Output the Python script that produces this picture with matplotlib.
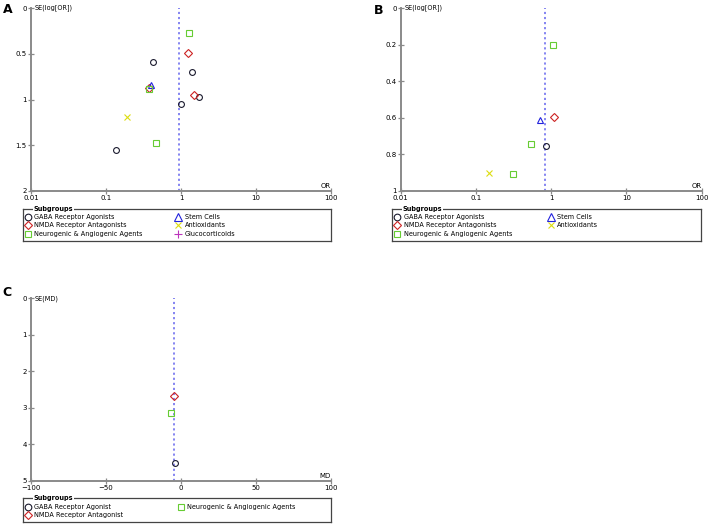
import matplotlib
matplotlib.use("Agg")
import matplotlib.pyplot as plt

# ---------------- data ----------------
# Panel A : OR vs SE(log[OR])
a_gaba_or = [0.42, 1.39, 1.75, 1.0, 0.135]
a_gaba_se = [0.587, 0.70, 0.973, 1.045, 1.552]
a_nmda_or = [1.25, 1.48, 0.38]
a_nmda_se = [0.49, 0.95, 0.87]
a_neuro_or = [1.29, 0.38, 0.46]
a_neuro_se = [0.27, 0.89, 1.47]
a_stem_or = [0.40]
a_stem_se = [0.84]
a_anti_or = [0.19]
a_anti_se = [1.19]
a_summary = 0.94

# Panel B
b_gaba_or = [0.845]
b_gaba_se = [0.752]
b_nmda_or = [1.08]
b_nmda_se = [0.597]
b_neuro_or = [1.07, 0.54, 0.314]
b_neuro_se = [0.204, 0.743, 0.907]
b_stem_or = [0.71]
b_stem_se = [0.614]
b_anti_or = [0.148]
b_anti_se = [0.90]
b_summary = 0.82

# Panel C : MD vs SE(MD)
c_gaba_md = [-4.2]
c_gaba_se = [4.52]
c_nmda_md = [-4.4]
c_nmda_se = [2.67]
c_neuro_md = [-6.4]
c_neuro_se = [3.13]
c_summary = -4.9

or_ticks = [0.01, 0.1, 1, 10, 100]
or_labels = ["0.01", "0.1", "1", "10", "100"]

# ---------------- styles ----------------
styles = {
    "gaba": dict(marker="o", color="#1a1a2e"),
    "nmda": dict(marker="D", color="#cc2222"),
    "neuro": dict(marker="s", color="#66cc33"),
    "stem": dict(marker="^", color="#2222dd"),
    "anti": dict(marker="x", color="#dddd11"),
    "gluco": dict(marker="+", color="#bb33bb"),
}
sizes = {"o": 4.2, "D": 3.6, "s": 3.8, "^": 4.8, "x": 4.0, "+": 4.5}
SPINE = "#8a8a8a"
FS = 5.0
LFS = 4.7
LINE = "#7b7bf0"


def pts(ax, x, y, key, extra=0.0):
    st = styles[key]
    m = st["marker"]
    ax.plot(x, y, linestyle="none", marker=m, markersize=sizes[m] + extra,
            markerfacecolor="none", markeredgecolor=st["color"],
            markeredgewidth=0.8, clip_on=False, zorder=3)


def style_axes(ax, ylabel, xlabel):
    for s in ["top", "right"]:
        ax.spines[s].set_visible(False)
    for s in ["left", "bottom"]:
        ax.spines[s].set_color(SPINE)
        ax.spines[s].set_linewidth(1.4)
    ax.tick_params(direction="inout", length=4, width=0.9, color=SPINE,
                   labelsize=FS, pad=1)
    ax.minorticks_off()
    ax.text(0.012, 1.0, ylabel, transform=ax.transAxes, fontsize=LFS,
            ha="left", va="center")
    ax.text(1.0, 0.01, xlabel, transform=ax.transAxes, fontsize=LFS + 0.3,
            ha="right", va="bottom")


def legend_box(fig, rect, entries, rows_y, col_x):
    lax = fig.add_axes(rect)
    lax.set_xlim(0, 1)
    lax.set_ylim(0, 1)
    lax.set_xticks([])
    lax.set_yticks([])
    for s in lax.spines.values():
        s.set_color("#444444")
        s.set_linewidth(0.9)
    nrows = len(rows_y)
    for i, (key, label) in enumerate(entries):
        col, row = divmod(i, nrows)
        mx, tx = col_x[col]
        pts(lax, [mx], [rows_y[row]], key, extra=0.6)
        lax.text(tx, rows_y[row], label, fontsize=LFS, ha="left",
                 va="center")
    lax.text(0.035, 1.0, "Subgroups", transform=lax.transAxes, fontsize=LFS,
             fontweight="bold", ha="left", va="center",
             bbox=dict(facecolor="white", edgecolor="none", pad=0.5))
    return lax


def summary_line(ax, x):
    ax.axvline(x, color=LINE, linestyle=(0, (1.2, 1.6)), lw=1.3, zorder=1)


fig = plt.figure(figsize=(7.08, 5.24), dpi=100)

# ---------------- panel A ----------------
axA = fig.add_axes([0.0438, 0.6355, 0.4237, 0.3492])
axA.set_xscale("log")
summary_line(axA, a_summary)
pts(axA, a_gaba_or, a_gaba_se, "gaba")
pts(axA, a_nmda_or, a_nmda_se, "nmda")
pts(axA, a_stem_or, a_stem_se, "stem")
pts(axA, a_neuro_or, a_neuro_se, "neuro")
pts(axA, a_anti_or, a_anti_se, "anti")
axA.set_xlim(0.01, 100)
axA.set_ylim(2, 0)
axA.set_xticks(or_ticks)
axA.set_xticklabels(or_labels)
axA.set_yticks([0, 0.5, 1, 1.5, 2])
axA.set_yticklabels(["0", "0.5", "1", "1.5", "2"])
style_axes(axA, "SE(log[OR])", "OR")

legend_box(fig, [0.0325, 0.540, 0.435, 0.061],
           [("gaba", "GABA Receptor Agonists"),
            ("nmda", "NMDA Receptor Antagonists"),
            ("neuro", "Neurogenic & Angiogenic Agents"),
            ("stem", "Stem Cells"),
            ("anti", "Antioxidants"),
            ("gluco", "Glucocorticoids")],
           [0.76, 0.49, 0.21], [(0.017, 0.036), (0.503, 0.526)])

# ---------------- panel B ----------------
axB = fig.add_axes([0.566, 0.6355, 0.425, 0.3492])
axB.set_xscale("log")
summary_line(axB, b_summary)
pts(axB, b_gaba_or, b_gaba_se, "gaba")
pts(axB, b_nmda_or, b_nmda_se, "nmda")
pts(axB, b_neuro_or, b_neuro_se, "neuro")
pts(axB, b_stem_or, b_stem_se, "stem")
pts(axB, b_anti_or, b_anti_se, "anti")
axB.set_xlim(0.01, 100)
axB.set_ylim(1, 0)
axB.set_xticks(or_ticks)
axB.set_xticklabels(or_labels)
axB.set_yticks([0, 0.2, 0.4, 0.6, 0.8, 1])
axB.set_yticklabels(["0", "0.2", "0.4", "0.6", "0.8", "1"])
style_axes(axB, "SE(log[OR])", "OR")

legend_box(fig, [0.5537, 0.540, 0.4364, 0.061],
           [("gaba", "GABA Receptor Agonists"),
            ("nmda", "NMDA Receptor Antagonists"),
            ("neuro", "Neurogenic & Angiogenic Agents"),
            ("stem", "Stem Cells"),
            ("anti", "Antioxidants")],
           [0.76, 0.49, 0.21], [(0.017, 0.039), (0.513, 0.534)])

# ---------------- panel C ----------------
axC = fig.add_axes([0.0438, 0.0821, 0.4237, 0.3487])
summary_line(axC, c_summary)
pts(axC, c_gaba_md, c_gaba_se, "gaba")
pts(axC, c_nmda_md, c_nmda_se, "nmda")
pts(axC, c_neuro_md, c_neuro_se, "neuro")
axC.set_xlim(-100, 100)
axC.set_ylim(5, 0)
axC.set_xticks([-100, -50, 0, 50, 100])
axC.set_xticklabels(["\u2212100", "\u221250", "0", "50", "100"])
axC.set_yticks([0, 1, 2, 3, 4, 5])
style_axes(axC, "SE(MD)", "MD")

legend_box(fig, [0.0325, 0.003, 0.435, 0.046],
           [("gaba", "GABA Receptor Agonist"),
            ("nmda", "NMDA Receptor Antagonist"),
            ("neuro", "Neurogenic & Angiogenic Agents")],
           [0.66, 0.30], [(0.017, 0.036), (0.513, 0.533)])

# panel letters
fig.text(0.004, 0.995, "A", fontsize=9, fontweight="bold", ha="left", va="top")
fig.text(0.528, 0.993, "B", fontsize=9, fontweight="bold", ha="left", va="top")
fig.text(0.004, 0.455, "C", fontsize=9, fontweight="bold", ha="left", va="top")

fig.savefig("out.png", dpi=100)
